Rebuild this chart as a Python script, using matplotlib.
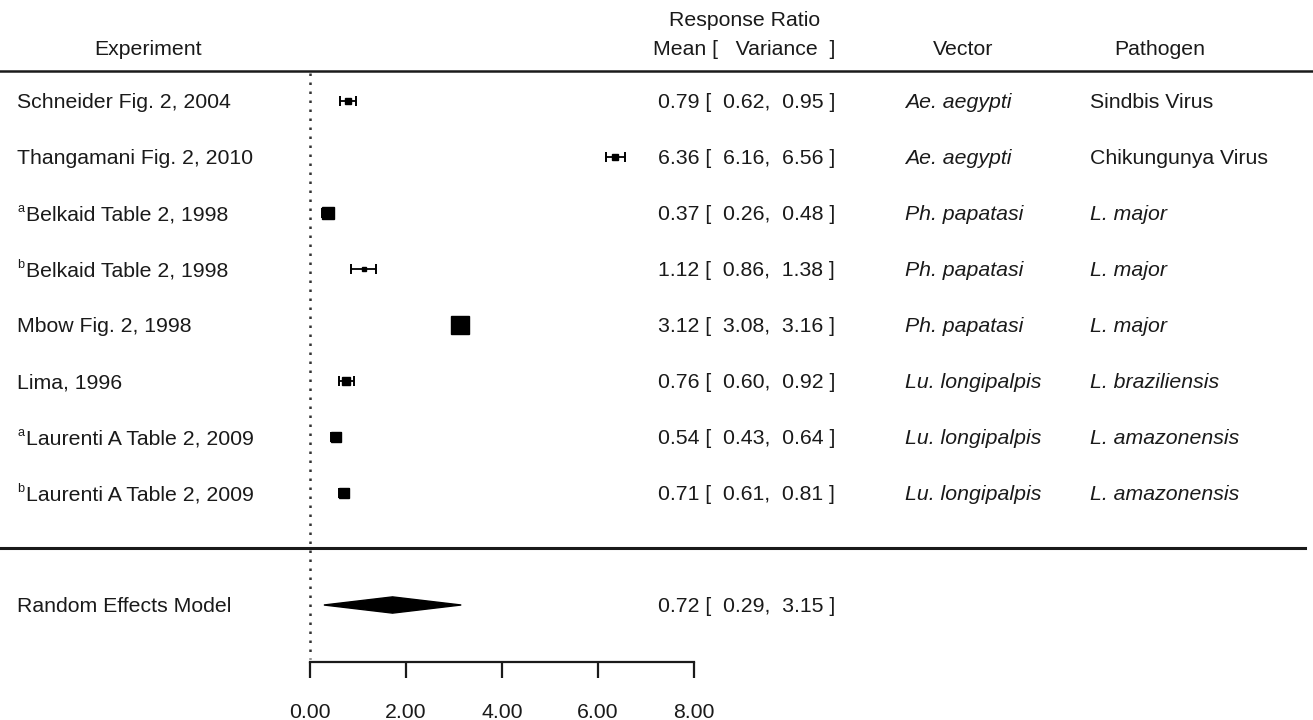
import matplotlib
matplotlib.use("Agg")
import matplotlib.pyplot as plt
from matplotlib.patches import Polygon

plt.rcParams['font.family'] = ['Liberation Sans', 'DejaVu Sans']

# data
experiments = [
    "Schneider Fig. 2, 2004",
    "Thangamani Fig. 2, 2010",
    "Belkaid Table 2, 1998",
    "Belkaid Table 2, 1998",
    "Mbow Fig. 2, 1998",
    "Lima, 1996",
    "Laurenti A Table 2, 2009",
    "Laurenti A Table 2, 2009",
]
marks = ["", "", "a", "b", "", "", "a", "b"]
means = [0.79, 6.36, 0.37, 1.12, 3.12, 0.76, 0.54, 0.71]
ci_low = [0.62, 6.16, 0.26, 0.86, 3.08, 0.60, 0.43, 0.61]
ci_high = [0.95, 6.56, 0.48, 1.38, 3.16, 0.92, 0.64, 0.81]
weights = [7, 7, 12, 5, 18, 8, 11, 11]
vectors = ["Ae. aegypti", "Ae. aegypti", "Ph. papatasi", "Ph. papatasi",
           "Ph. papatasi", "Lu. longipalpis", "Lu. longipalpis", "Lu. longipalpis"]
pathogens = ["Sindbis Virus", "Chikungunya Virus", "L. major", "L. major",
             "L. major", "L. braziliensis", "L. amazonensis", "L. amazonensis"]
italic_pathogen = [False, False, True, True, True, True, True, True]

re_label = "Random Effects Model"
re_mean, re_low, re_high = 0.72, 0.29, 3.15
re_apex = 1.72  # where the diamond peaks in the picture
x_ticks = [0, 2, 4, 6, 8]

W, H = 1313, 720
fig = plt.figure(figsize=(W / 100, H / 100), dpi=100)
ax = fig.add_axes([0, 0, 1, 1])
# x: 48 px per unit, zero at px 310; y: one row = 56 px, row 0 at px 101
ax.set_xlim(-310 / 48, (W - 310) / 48)
ax.set_ylim((H - 101) / 56, -101 / 56)
ax.axis('off')

ink = '#1a1a1a'
fs = 15.3
va = 'center_baseline'
n = len(means)
rows = list(range(n))
re_row = n + 1
axis_row = n + 2

# dotted reference line at 0
ax.plot([0, 0], [-0.5, axis_row - 0.03], color='#333333', lw=1.8,
        ls=(0, (1, 2.6)), zorder=1)

# horizontal rules
ax.axhline(-0.54, color=ink, lw=1.8)
ax.plot([-310 / 48, (1305 - 310) / 48], [n - 0.02, n - 0.02], color=ink, lw=2.2)

# study estimates
for i in rows:
    ax.errorbar(means[i], i, xerr=[[means[i] - ci_low[i]], [ci_high[i] - means[i]]],
                fmt='none', ecolor='black', elinewidth=1.3, capsize=3.6,
                capthick=1.4, zorder=2)
    ax.plot(means[i], i, marker='s', ms=weights[i] / 1.39, color='black',
            mec='black', zorder=3)

# summary diamond
h = 0.145
ax.add_patch(Polygon([(re_low, re_row), (re_apex, re_row - h),
                      (re_high, re_row), (re_apex, re_row + h)],
                     closed=True, color='black', zorder=3))

tx = ax.get_yaxis_transform()  # x in axes fraction, y in rows
for i in rows:
    x0 = 17 / W
    if marks[i]:
        ax.text(x0, i - 0.09, marks[i], transform=tx, ha='left', va=va,
                fontsize=fs * 0.6, color=ink)
        x0 = 26 / W
    ax.text(x0, i, experiments[i], transform=tx, ha='left', va=va,
            fontsize=fs, color=ink)
    ax.text(835 / W, i, f"{means[i]:.2f} [  {ci_low[i]:.2f},  {ci_high[i]:.2f} ]",
            transform=tx, ha='right', va=va, fontsize=fs, color=ink)
    ax.text(905 / W, i, vectors[i], transform=tx, ha='left', va=va,
            fontsize=fs, color=ink, style='italic')
    ax.text(1090 / W, i, pathogens[i], transform=tx, ha='left', va=va,
            fontsize=fs, color=ink,
            style='italic' if italic_pathogen[i] else 'normal')

ax.text(17 / W, re_row, re_label, transform=tx, ha='left', va=va,
        fontsize=fs, color=ink)
ax.text(835 / W, re_row, f"{re_mean:.2f} [  {re_low:.2f},  {re_high:.2f} ]",
        transform=tx, ha='right', va=va, fontsize=fs, color=ink)

# headers
ax.text(148 / W, -0.96, "Experiment", transform=tx, ha='center', va=va,
        fontsize=fs, color=ink)
ax.text(745 / W, -1.48, "Response Ratio", transform=tx, ha='center', va=va,
        fontsize=fs, color=ink)
ax.text(835 / W, -0.96, "Mean [   Variance  ]", transform=tx, ha='right',
        va=va, fontsize=fs, color=ink)
ax.text(963 / W, -0.96, "Vector", transform=tx, ha='center', va=va,
        fontsize=fs, color=ink)
ax.text(1160 / W, -0.96, "Pathogen", transform=tx, ha='center', va=va,
        fontsize=fs, color=ink)

# bottom scale
sx = fig.add_axes([310 / W, (H - 662) / H, 384 / W, 0.0001])
sx.set_xlim(0, 8)
for s in ['top', 'left', 'right']:
    sx.spines[s].set_visible(False)
sx.spines['bottom'].set_linewidth(1.6)
sx.spines['bottom'].set_color(ink)
sx.set_yticks([])
sx.set_xticks(x_ticks)
sx.set_xticklabels([f"{t:.2f}" for t in x_ticks])
sx.tick_params(axis='x', direction='out', length=11.5, width=1.6, color=ink,
               pad=18, labelsize=fs, labelcolor=ink)
sx.patch.set_visible(False)

fig.savefig("out.png", dpi=100)
